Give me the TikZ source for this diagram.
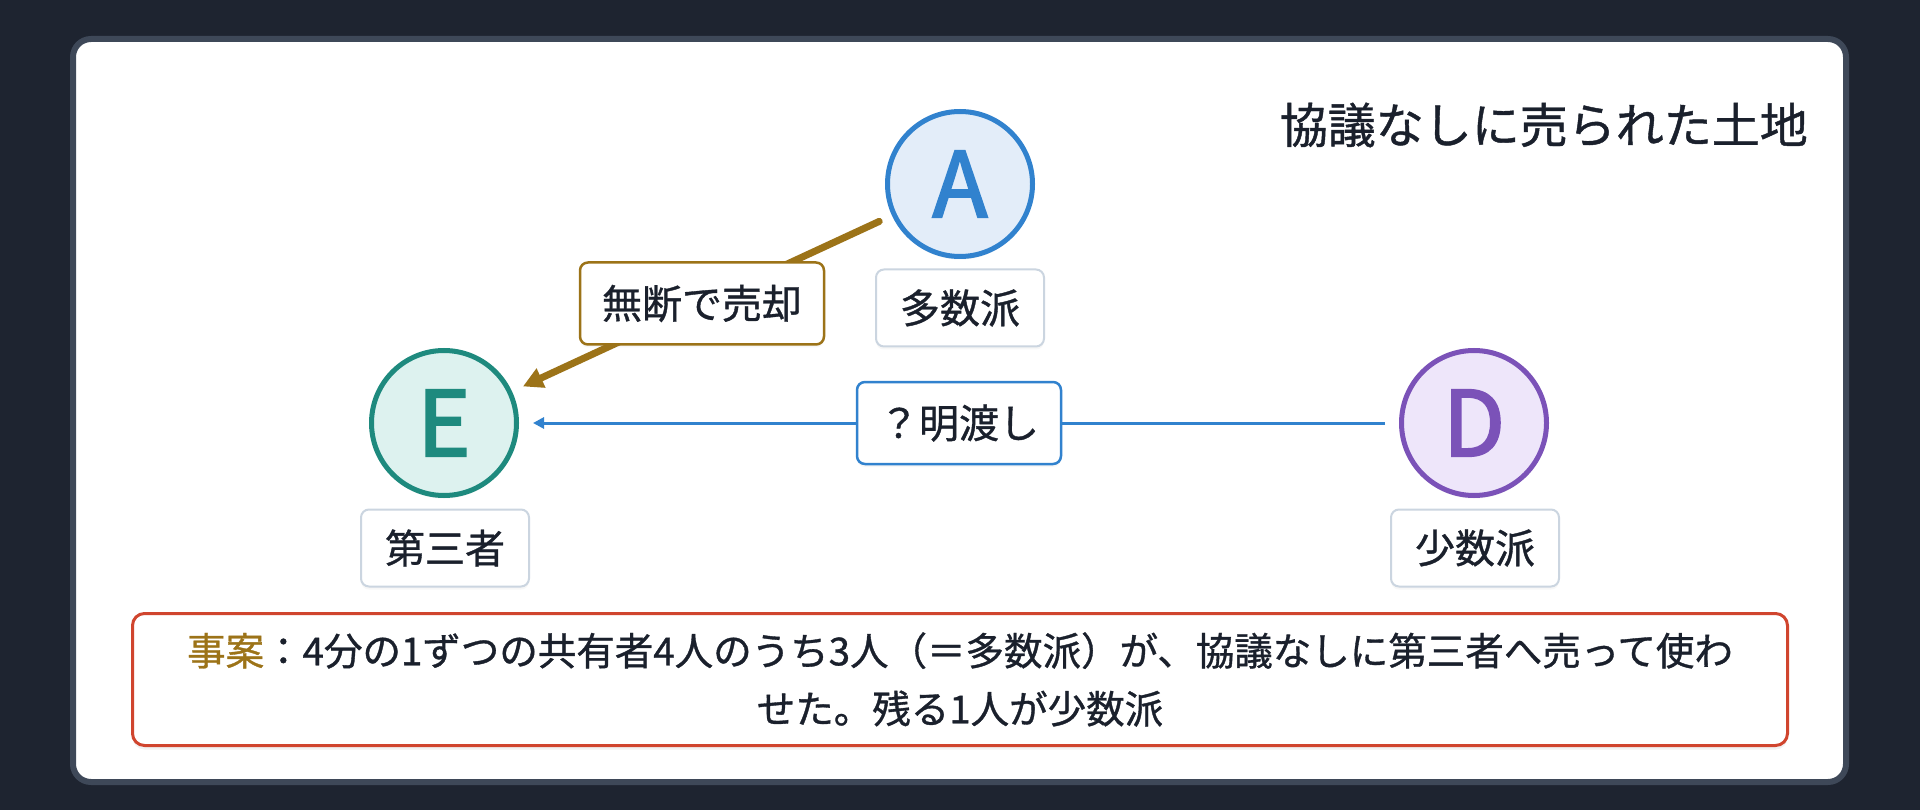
\documentclass[tikz,border=0pt]{standalone}
\usepackage{fontspec}
\setmainfont{Noto Sans CJK JP}[FakeBold=0.9]
\newfontfamily\letterfont{Noto Sans CJK JP}[FakeBold=2.5]
\usetikzlibrary{arrows.meta,shadows,calc}
\definecolor{bgdark}{HTML}{1E2430}
\definecolor{panelborder}{HTML}{3E4858}
\definecolor{ink}{HTML}{1A202C}
\definecolor{blueA}{HTML}{3182CE}
\definecolor{blueFill}{HTML}{E3EDF9}
\definecolor{tealE}{HTML}{1E8A7E}
\definecolor{tealFill}{HTML}{DDF2EF}
\definecolor{purpD}{HTML}{7B52B8}
\definecolor{purpFill}{HTML}{EEE6FA}
\definecolor{gold}{HTML}{9C7318}
\definecolor{labelborder}{HTML}{CBD5E0}
\definecolor{redbox}{HTML}{D0452E}
\tikzset{
  party/.style={circle, line width=5pt, minimum size=145pt, inner sep=0pt,
    font=\letterfont\fontsize{90}{90}\selectfont,
    drop shadow={opacity=0.10, shadow xshift=0pt, shadow yshift=-3pt}},
  rolebox/.style={rectangle, rounded corners=8pt, draw=labelborder, line width=2pt,
    fill=white, text=ink, minimum width=168pt, minimum height=77pt, inner sep=0pt,
    font=\fontsize{40}{40}\selectfont,
    drop shadow={opacity=0.06, shadow xshift=0pt, shadow yshift=-3pt}},
  edgebox/.style={rectangle, rounded corners=8pt, line width=2.5pt,
    fill=white, text=ink, minimum height=82pt, inner xsep=22pt, inner ysep=0pt,
    font=\fontsize{40}{40}\selectfont,
    drop shadow={opacity=0.06, shadow xshift=0pt, shadow yshift=-3pt}},
}
\begin{document}
\begin{tikzpicture}[x=1pt,y=-1pt]
\useasboundingbox (0,0) rectangle (1920,810);
\fill[bgdark] (0,0) rectangle (1920,810);
\draw[panelborder, line width=6pt, fill=white, rounded corners=18pt] (73,39) rectangle (1846,782);

% title
\node[anchor=east, text=ink, font=\fontsize{48}{48}\selectfont, inner sep=0pt] (title) at (1808,125) {協議なしに売られた土地};

% parties
\node[party, draw=blueA, fill=blueFill, text=blueA] (A) at (960,184) {A};
\node[party, draw=tealE, fill=tealFill, text=tealE] (E) at (444,423) {E};
\node[party, draw=purpD, fill=purpFill, text=purpD] (D) at (1474,423) {D};

% role labels
\node[rolebox] (rA) at (960,308) {多数派};
\node[rolebox] (rE) at (445,548) {第三者};
\node[rolebox] (rD) at (1475,548) {少数派};

% connectors
\draw[gold, line width=7pt, line cap=round, shorten <=14pt, shorten >=12pt,
  -{Triangle[length=20pt,width=20pt]}] (A) -- (E);
\draw[blueA, line width=3pt, shorten <=14pt, shorten >=14pt,
  -{Triangle[length=11pt,width=11pt]}] (D) -- (E);

\node[edgebox, draw=gold] (lAE) at ($(A)!0.5!(E)$) {無断で売却};
\node[edgebox, draw=blueA] (lDE) at ($(D)!0.5!(E)$) {？明渡し};

% fact box
\node[rectangle, rounded corners=12pt, draw=redbox, line width=3pt, fill=white,
  minimum width=1655pt, minimum height=132pt, inner sep=0pt, align=center,
  text=ink, font=\fontsize{38.5}{58}\selectfont,
  drop shadow={opacity=0.10, shadow xshift=0pt, shadow yshift=-4pt}] (fact) at (960,679.5)
  {{\color{gold}事案}：4分の1ずつの共有者4人のうち3人（＝多数派）が、協議なしに第三者へ売って使わ\\せた。残る1人が少数派};
\end{tikzpicture}
\end{document}
